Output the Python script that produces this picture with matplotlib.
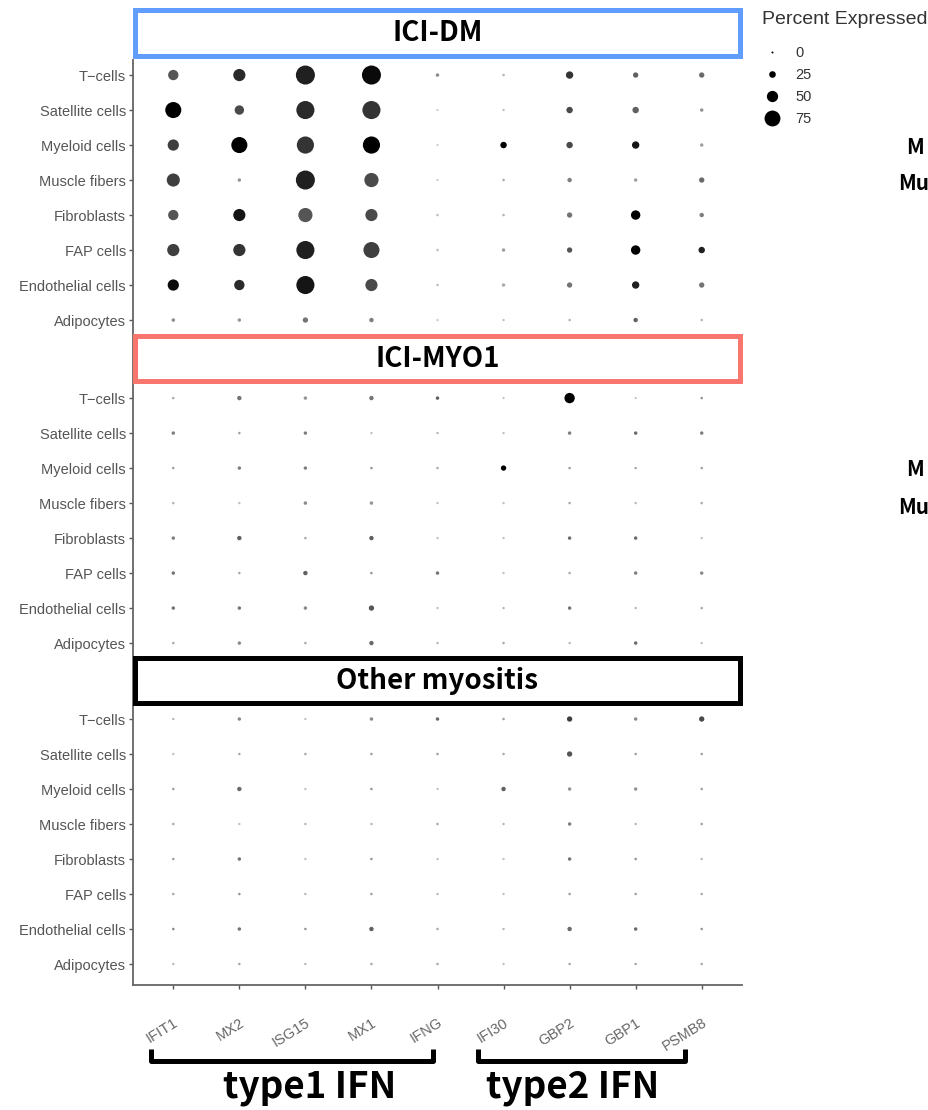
import numpy as np
import matplotlib.pyplot as plt
from matplotlib.colors import LinearSegmentedColormap
from matplotlib.lines import Line2D
from matplotlib.patches import Rectangle
from matplotlib.transforms import blended_transform_factory

plt.rcParams['font.family'] = ['Liberation Sans', 'DejaVu Sans']
BOLD_FONT = ["Noto Sans CJK JP", "DejaVu Sans"]

genes = ["IFIT1", "MX2", "ISG15", "MX1", "IFNG", "IFI30", "GBP2", "GBP1", "PSMB8"]
cell_types = ["T\u2212cells", "Satellite cells", "Myeloid cells", "Muscle fibers",
              "Fibroblasts", "FAP cells", "Endothelial cells", "Adipocytes"]
groups = ["ICI-DM", "ICI-MYO1", "Other myositis"]
group_colors = ["#619CFF", "#F8766D", "#000000"]

# percent expressed (rows = cell types, cols = genes)
pct_dm = [[45, 55, 92, 92, 8, 3, 29, 18, 18],
          [76, 40, 87, 87, 1, 2, 24, 24, 8],
          [50, 76, 82, 82, 1, 24, 24, 29, 8],
          [60, 8, 92, 66, 1, 3, 13, 8, 18],
          [45, 55, 66, 55, 3, 3, 18, 40, 13],
          [55, 55, 87, 76, 3, 8, 18, 40, 24],
          [50, 45, 87, 55, 3, 8, 18, 29, 18],
          [8, 8, 18, 13, 2, 2, 3, 13, 3]]
pct_myo1 = [[3, 13, 8, 13, 8, 1, 45, 1, 3],
            [8, 3, 8, 2, 2, 2, 8, 8, 8],
            [3, 8, 8, 3, 3, 18, 3, 3, 3],
            [3, 2, 8, 8, 2, 2, 3, 2, 3],
            [8, 13, 3, 13, 2, 2, 8, 8, 2],
            [8, 3, 13, 3, 8, 2, 3, 8, 8],
            [8, 8, 8, 18, 2, 2, 8, 2, 3],
            [3, 8, 3, 13, 2, 3, 2, 8, 2]]
pct_other = [[2, 8, 2, 8, 8, 3, 18, 8, 18],
             [2, 3, 3, 3, 3, 3, 18, 3, 3],
             [3, 13, 2, 3, 2, 13, 8, 8, 3],
             [3, 2, 2, 2, 3, 2, 8, 2, 3],
             [3, 8, 2, 3, 2, 2, 8, 3, 2],
             [3, 3, 2, 3, 2, 2, 3, 3, 3],
             [3, 8, 3, 13, 3, 2, 13, 8, 3],
             [2, 3, 2, 3, 3, 2, 3, 3, 3]]

# scaled average expression (0 = low, 1 = high)
avg_dm = [[0.6, 0.8, 0.85, 0.95, 0.35, 0.15, 0.75, 0.55, 0.5],
          [1.0, 0.65, 0.8, 0.75, 0.05, 0.1, 0.65, 0.55, 0.3],
          [0.7, 1.0, 0.75, 1.0, 0.05, 1.0, 0.65, 0.9, 0.25],
          [0.7, 0.3, 0.85, 0.65, 0.05, 0.2, 0.4, 0.25, 0.5],
          [0.6, 0.9, 0.6, 0.65, 0.1, 0.15, 0.45, 1.0, 0.4],
          [0.7, 0.75, 0.85, 0.7, 0.1, 0.25, 0.6, 1.0, 0.85],
          [0.95, 0.8, 0.9, 0.65, 0.1, 0.2, 0.45, 0.85, 0.45],
          [0.35, 0.3, 0.45, 0.4, 0.05, 0.1, 0.15, 0.55, 0.15]]
avg_myo1 = [[0.2, 0.45, 0.3, 0.45, 0.55, 0.1, 1.0, 0.1, 0.3],
            [0.4, 0.25, 0.4, 0.1, 0.15, 0.1, 0.4, 0.5, 0.4],
            [0.25, 0.4, 0.4, 0.3, 0.2, 1.0, 0.25, 0.2, 0.25],
            [0.15, 0.1, 0.35, 0.3, 0.1, 0.1, 0.2, 0.15, 0.2],
            [0.4, 0.55, 0.2, 0.55, 0.1, 0.1, 0.5, 0.5, 0.1],
            [0.45, 0.2, 0.55, 0.3, 0.45, 0.1, 0.2, 0.4, 0.35],
            [0.45, 0.45, 0.35, 0.6, 0.1, 0.15, 0.45, 0.15, 0.2],
            [0.2, 0.35, 0.2, 0.5, 0.15, 0.2, 0.15, 0.5, 0.1]]
avg_other = [[0.15, 0.35, 0.1, 0.35, 0.5, 0.25, 0.7, 0.35, 0.65],
             [0.1, 0.2, 0.2, 0.25, 0.25, 0.2, 0.6, 0.25, 0.25],
             [0.25, 0.5, 0.1, 0.3, 0.1, 0.55, 0.3, 0.3, 0.25],
             [0.2, 0.1, 0.15, 0.15, 0.2, 0.15, 0.4, 0.15, 0.25],
             [0.25, 0.45, 0.1, 0.3, 0.1, 0.1, 0.45, 0.3, 0.15],
             [0.2, 0.3, 0.15, 0.25, 0.15, 0.1, 0.25, 0.25, 0.2],
             [0.35, 0.45, 0.3, 0.55, 0.2, 0.15, 0.5, 0.5, 0.3],
             [0.15, 0.2, 0.15, 0.2, 0.2, 0.1, 0.2, 0.2, 0.2]]

legend_pct = [0, 25, 50, 75]
gene_sets = ["type1 IFN", "type2 IFN"]

pct_all = [pct_dm, pct_myo1, pct_other]
avg_all = [avg_dm, avg_myo1, avg_other]
panel_offset = [0, 9.23, 18.4]
header_center = [-1.21, 8.10, 17.30]


def dot_size(p):
    d_px = 2.0 + 0.185 * np.asarray(p, dtype=float)
    return (d_px * 0.72) ** 2


cmap = LinearSegmentedColormap.from_list("grey_black", ["#D4D4D4", "#000000"])

fig = plt.figure(figsize=(9.29, 11.10), dpi=100)
ax = fig.add_axes([133 / 929, 125 / 1110, 609 / 929, 925 / 1110])

xx, yy = np.meshgrid(np.arange(len(genes)), np.arange(len(cell_types)))
ytick_pos, ytick_lab = [], []
for p in range(3):
    pct = np.array(pct_all[p])
    avg = np.array(avg_all[p])
    ax.scatter(xx.ravel(), (yy + panel_offset[p]).ravel(), s=dot_size(pct.ravel()),
               c=avg.ravel(), cmap=cmap, vmin=0, vmax=1, linewidths=0, zorder=3)
    ytick_pos += list(np.arange(len(cell_types)) + panel_offset[p])
    ytick_lab += cell_types

ax.set_xlim(-0.61, len(genes) - 1 + 0.61)
ax.set_ylim(26.0, -0.43)
ax.set_yticks(ytick_pos)
ax.set_yticklabels(ytick_lab, fontsize=10.5, color="#555555")
ax.set_xticks(range(len(genes)))
ax.set_xticklabels(genes, rotation=32, ha="right", rotation_mode="anchor",
                   fontsize=10.5, color="#666666")
ax.tick_params(axis="y", length=3, width=1, color="#555555", pad=2)
ax.tick_params(axis="x", length=3, width=1, color="#555555", pad=19)
for sp in ["top", "right"]:
    ax.spines[sp].set_visible(False)
for sp in ["left", "bottom"]:
    ax.spines[sp].set_color("#666666")
    ax.spines[sp].set_linewidth(1.3)

# group header boxes
trans_hdr = blended_transform_factory(ax.transAxes, ax.transData)
for p in range(3):
    h = 1.31
    rect = Rectangle((0.004, header_center[p] - h / 2), 0.992, h, transform=trans_hdr,
                     facecolor="white", edgecolor=group_colors[p], linewidth=3.6,
                     clip_on=False, zorder=5)
    ax.add_patch(rect)
    ax.text(0.5, header_center[p], groups[p], transform=trans_hdr, ha="center", va="center",
            fontsize=20, fontweight="bold", family=BOLD_FONT, zorder=6, clip_on=False)

# gene set brackets
trans_br = blended_transform_factory(ax.transData, fig.transFigure)
bracket_span = [(-0.33, 3.93), (4.61, 7.75)]
label_center = [2.07, 6.05]
bracket_top, bracket_bot = 1 - 1049 / 1110, 1 - 1061 / 1110
for (x0, x1), xc, label in zip(bracket_span, label_center, gene_sets):
    ax.plot([x0, x0, x1, x1], [bracket_top, bracket_bot, bracket_bot, bracket_top],
            color="black", lw=3.6, transform=trans_br, clip_on=False,
            solid_capstyle="butt")
    ax.text(xc, 1 - 1088 / 1110, label, transform=trans_br,
            ha="center", va="center", fontsize=26.5, fontweight="bold", family=BOLD_FONT)

# size legend
fig.text(762 / 929, 1 - 20 / 1110, "Percent Expressed", fontsize=14, color="#333333",
         ha="left", va="center")
handles = [Line2D([], [], ls="", marker="o", color="black", markeredgewidth=0,
                  markersize=np.sqrt(dot_size(v))) for v in legend_pct]
leg = fig.legend(handles, [str(v) for v in legend_pct],
                 loc="upper left", bbox_to_anchor=(765 / 929, 1 - 46 / 1110),
                 frameon=False, fontsize=10.5, handlelength=1.0, handletextpad=1.1,
                 labelspacing=0.55, borderaxespad=0, borderpad=0)
for t in leg.get_texts():
    t.set_color("#333333")

# side labels running off the right edge
for yc in [147, 470]:
    fig.text(906 / 929, 1 - yc / 1110, "M", fontsize=15, fontweight="bold",
             ha="left", va="center", family=BOLD_FONT)
    fig.text(898 / 929, 1 - (yc + 37) / 1110, "Mu", fontsize=15, fontweight="bold",
             ha="left", va="center", family=BOLD_FONT)

fig.savefig("out.png", dpi=100)
